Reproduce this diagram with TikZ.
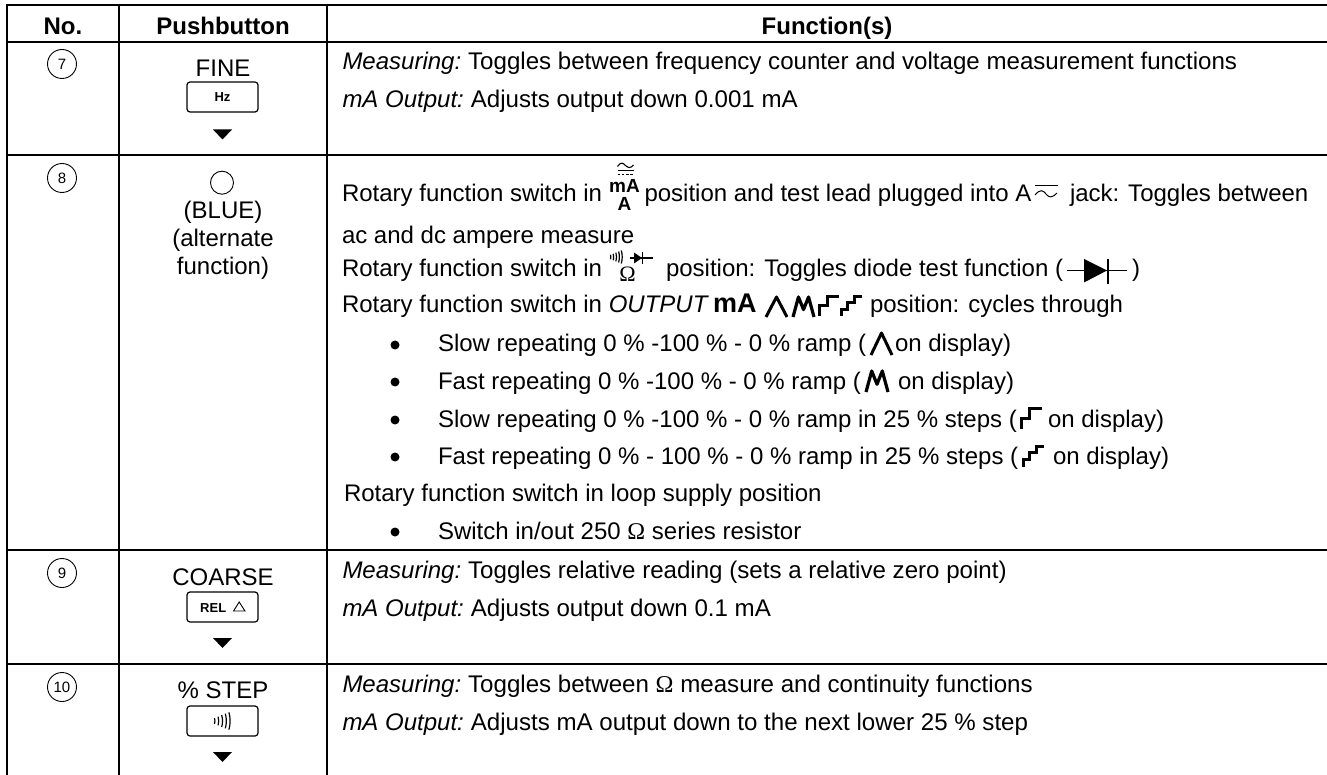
\documentclass[tikz,border=0pt]{standalone}
\usepackage{fontspec}
\setmainfont{Liberation Sans}
\newfontfamily\omg{Liberation Serif}
\newcommand{\fs}{\fontsize{24}{26}\selectfont}
\tikzset{
 txt/.style={anchor=base west,inner sep=0pt,outer sep=0pt,font=\fs},
 ctr/.style={anchor=base,inner sep=0pt,outer sep=0pt,font=\fs},
 hd/.style={anchor=base,inner sep=0pt,outer sep=0pt,font=\fontsize{24}{26}\selectfont\bfseries},
 num/.style={circle,draw,line width=0.9pt,minimum size=29pt,inner sep=0pt,font=\fontsize{15}{16}\selectfont},
 rule/.style={line width=2pt,line cap=rect},
 keybox/.style={draw,line width=1.2pt,rounded corners=3pt,minimum width=71pt,minimum height=30pt,inner sep=0pt,font=\fontsize{13}{14}\selectfont\bfseries},
 bullet/.style={circle,fill=black,inner sep=0pt,minimum size=9pt}
}
\newcommand{\lead}[1]{\textit{#1}\kern-2pt\relax\fontsize{24.1}{26}\selectfont}
\newcommand{\trimark}[2]{\fill (#1-9.5,#2-5) -- (#1+9.5,#2-5) -- (#1,#2+5) -- cycle;}
% x left, y top, width, height
\newcommand{\stepa}[4]{\draw[line width=3pt,line join=miter] (#1+1,#2+#4) -- (#1+1,#2+0.5*#4) -- (#1+0.45*#3,#2+0.5*#4) -- (#1+0.45*#3,#2+1.2) -- (#1+#3,#2+1.2);}
\newcommand{\stepb}[4]{\draw[line width=3pt,line join=miter] (#1+1,#2+#4) -- (#1+1,#2+0.68*#4) -- (#1+0.33*#3,#2+0.68*#4) -- (#1+0.33*#3,#2+0.36*#4) -- (#1+0.66*#3,#2+0.36*#4) -- (#1+0.66*#3,#2+1.2) -- (#1+#3,#2+1.2);}
\newcommand{\peak}[4]{\draw[line width=3pt,line join=round] (#1+1,#2+#4) -- (#1+0.5*#3,#2+1) -- (#1+#3-1,#2+#4);}
\newcommand{\peaks}[4]{\draw[line width=3.2pt,line join=round] (#1+1,#2+#4) -- (#1+0.28*#3,#2+1) -- (#1+0.5*#3,#2+0.65*#4) -- (#1+0.72*#3,#2+1) -- (#1+#3-1,#2+#4);}
\newcommand{\soundbars}[3]{\foreach \i/\r in {0/0.35,1/0.5,2/0.68,3/0.85,4/1}{\draw[line width=1.2pt] (#1+\i*#3,#2-\r*#3*2.4) .. controls (#1+\i*#3+0.45*\r*#3,#2-0.4*\r*#3*2.4) and (#1+\i*#3+0.45*\r*#3,#2+0.4*\r*#3*2.4) .. (#1+\i*#3,#2+\r*#3*2.4);}}
\begin{document}
\begin{tikzpicture}[x=1pt,y=-1pt]
\useasboundingbox (0,0) rectangle (1327,775);
% rules
\draw[rule] (7,5.3) -- (1327,5.3);
\draw[rule] (7,42) -- (1327,42);
\draw[rule] (7,155.5) -- (1327,155.5);
\draw[rule] (7,550) -- (1327,550);
\draw[rule] (7,663.5) -- (1327,663.5);
\draw[rule] (7,5.3) -- (7,775);
\draw[rule] (119,5.3) -- (119,775);
\draw[rule] (326.7,5.3) -- (326.7,775);
% header
\node[hd] (h1) at (63,35) {No.};
\node[hd] (h2) at (223,35) {Pushbutton};
\node[hd] (h3) at (827,35) {Function(s)};
% row numbers
\node[num] (n7) at (62,64) {7};
\node[num] (n8) at (62,178) {8};
\node[num] (n9) at (62,573) {9};
\node[num] (n10) at (62,687) {10};
% pushbuttons
\node[ctr] (fine) at (223,77) {FINE};
\node[keybox] (khz) at (222.5,97) {Hz};
\trimark{222.5}{134.5}
\node[circle,draw,line width=0.9pt,minimum size=23pt,inner sep=0pt] (blueo) at (222,182.7) {};
\node[ctr] at (223,219) (blue) {(BLUE)};
\node[ctr] at (223,247) (alt1) {(alternate};
\node[ctr] at (223,275) (alt2) {function)};
\node[ctr] (coarse) at (223,585) {COARSE};
\node[keybox] (krel) at (222.5,607) {};
\node[anchor=base west,inner sep=0pt,font=\fontsize{13}{14}\selectfont\bfseries] (rel) at (200,612) {REL};
\draw[line width=0.9pt] (233.5,611) -- (245,611) -- (239.2,602) -- cycle;
\trimark{222.5}{643}
\node[ctr] (stepl) at (223,698) {\% STEP};
\node[keybox] (kcont) at (222.5,721) {};
\soundbars{214.5}{721}{3.6}
\trimark{222.5}{757}
% function text
\node[txt] (f1) at (342.5,70) {\lead{Measuring:} Toggles between frequency counter and voltage measurement functions};
\node[txt] (f2) at (342.5,108) {\lead{mA Output:} Adjusts output down 0.001 mA};
\node[txt] (f3) at (342,202) {Rotary function switch in};
\node[font=\fontsize{19}{20}\selectfont\bfseries,inner sep=0pt,anchor=base] (ma) at (624.5,193) {mA};
\node[font=\fontsize{19}{20}\selectfont\bfseries,inner sep=0pt,anchor=base] (a) at (624.5,211) {A};
\draw[line width=1.1pt] (617.5,166.5) .. controls (621,161.5) and (623,163) .. (625.5,165.5) .. controls (628,168) and (630.5,168.5) .. (633.5,165);
\draw[line width=1.1pt] (617.5,170.5) -- (633.5,170.5);
\draw[line width=1.1pt,dash pattern=on 2.6pt off 1.6pt] (617.5,174.5) -- (633.5,174.5);
\node[txt] (f3b) at (644.5,202) {position and test lead plugged into A};
\draw[line width=1pt] (1035,186) -- (1058,186);
\draw[line width=1pt] (1035,195) .. controls (1040,189) and (1043,190) .. (1046,194) .. controls (1049,198) and (1052,198) .. (1057,193);
\node[txt] (f3c) at (1070,202) {jack: Toggles between};
\node[txt] (f4) at (342,244) {ac and dc ampere measure};
\node[txt] (f5) at (342,277) {Rotary function switch in};
\soundbars{610.5}{257}{2.7}
\draw[line width=1.1pt] (629.5,258) -- (653,258);
\fill (634,252.5) -- (642,258) -- (634,263.5) -- cycle;
\draw[line width=1.1pt] (642.5,252) -- (642.5,264.5);
\node[font=\omg\fontsize{22}{24}\selectfont,inner sep=0pt,anchor=base] (om1) at (627.5,282) {Ω};
\node[txt] (f5b) at (666,277) {position: Toggles diode test function (};
\draw[line width=1.4pt] (1067,270.5) -- (1127,270.5);
\fill (1084,259) -- (1107,270.5) -- (1084,282.5) -- cycle;
\draw[line width=1.6pt] (1107.7,259) -- (1107.7,284);
\node[txt] (f5c) at (1132,277) {)};
\node[txt] (f6) at (342,313) {Rotary function switch in \textit{OUTPUT}};
\node[txt,font=\fontsize{27}{28}\selectfont\bfseries] (f6b) at (713,313) {mA};
\peak{765}{296}{23}{21}
\peaks{792}{296}{23}{21}
\stepa{818}{295}{21}{21}
\stepb{840}{295}{22}{21}
\node[txt] (f6c) at (870,313) {position: cycles through};
\foreach \y/\t in {352/Slow repeating 0 \% -100 \% - 0 \% ramp (,
                   389/Fast repeating 0 \% -100 \% - 0 \% ramp (,
                   427/Slow repeating 0 \% -100 \% - 0 \% ramp in 25 \% steps (,
                   464/Fast repeating 0 \% - 100 \% - 0 \% ramp in 25 \% steps (}{
  \node[bullet] at (395,\y-7) {};
  \node[txt] at (438,\y) {\t};
}
\peak{870}{332}{23}{23}
\node[txt] at (895,352) {on display)};
\peaks{865}{370}{24}{22}
\node[txt] at (898,389) {on display)};
\stepa{1020}{407}{22}{22}
\node[txt] at (1048,427) {on display)};
\stepb{1022}{445}{22}{22}
\node[txt] at (1053,464) {on display)};
\node[txt] (f7) at (344,501) {Rotary function switch in loop supply position};
\node[bullet] at (395,532) {};
\node[txt] (f8) at (438,539) {Switch in/out 250 {\omg Ω} series resistor};
\node[txt] (f9) at (342.5,578) {\lead{Measuring:} Toggles relative reading (sets a relative zero point)};
\node[txt] (f10) at (342.5,616) {\lead{mA Output:} Adjusts output down 0.1 mA};
\node[txt] (f11) at (342.5,692) {\lead{Measuring:} Toggles between {\omg Ω} measure and continuity functions};
\node[txt] (f12) at (342.5,730) {\lead{mA Output:} Adjusts mA output down to the next lower 25 \% step};
\end{tikzpicture}
\end{document}
